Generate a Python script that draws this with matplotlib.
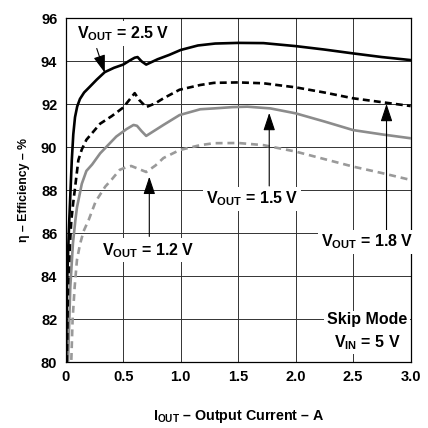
import matplotlib
matplotlib.use("Agg")
import matplotlib.pyplot as plt

# Efficiency vs output current, skip mode, VIN = 5 V
x_25 = [0.003, 0.011, 0.022, 0.031, 0.042, 0.053, 0.066, 0.081, 0.10, 0.124, 0.16, 0.21,
        0.27, 0.34, 0.42, 0.50, 0.56, 0.60, 0.625, 0.66, 0.70, 0.74, 0.80, 0.90, 1.00,
        1.15, 1.30, 1.50, 1.72, 2.00, 2.25, 2.50, 2.75, 3.00]
eff_25 = [80.0, 83.5, 85.3, 86.6, 88.0, 89.4, 90.6, 91.4, 91.9, 92.25, 92.55, 92.82,
          93.15, 93.5, 93.7, 93.85, 94.05, 94.17, 94.2, 94.0, 93.85, 93.95, 94.1, 94.3,
          94.53, 94.74, 94.83, 94.86, 94.85, 94.71, 94.55, 94.37, 94.2, 94.06]

x_18 = [0.01, 0.02, 0.037, 0.049, 0.065, 0.081, 0.11, 0.14, 0.18, 0.3, 0.4, 0.5, 0.60,
        0.64, 0.70, 0.78, 0.85, 0.99, 1.17, 1.29, 1.5, 1.72, 2.0, 2.25, 2.5, 2.75, 3.0]
eff_18 = [80.0, 83.5, 85.5, 86.6, 87.4, 88.1, 89.4, 89.9, 90.35, 91.1, 91.45, 91.85,
          92.52, 92.2, 91.87, 92.05, 92.28, 92.68, 92.9, 93.0, 93.02, 92.98, 92.79,
          92.55, 92.28, 92.1, 91.92]

x_15 = [0.02, 0.04, 0.063, 0.084, 0.098, 0.14, 0.18, 0.23, 0.30, 0.44, 0.53, 0.59,
        0.62, 0.66, 0.70, 0.75, 0.85, 0.99, 1.17, 1.29, 1.45, 1.58, 1.78, 2.0, 2.25,
        2.5, 2.75, 3.0]
eff_15 = [80.0, 83.5, 85.53, 86.6, 87.2, 88.3, 88.9, 89.2, 89.72, 90.5, 90.85, 91.04,
          91.0, 90.75, 90.53, 90.7, 91.04, 91.5, 91.77, 91.81, 91.87, 91.89, 91.81,
          91.58, 91.2, 90.8, 90.6, 90.42]

x_12 = [0.049, 0.06, 0.078, 0.098, 0.125, 0.156, 0.2, 0.26, 0.344, 0.40, 0.47, 0.53,
        0.57, 0.64, 0.70, 0.78, 0.85, 0.99, 1.17, 1.29, 1.5, 1.72, 2.0, 2.25, 2.5,
        2.75, 3.0]
eff_12 = [80.1, 81.97, 83.5, 84.76, 85.5, 86.1, 86.62, 87.47, 88.17, 88.5, 88.95,
          89.08, 89.13, 88.98, 88.85, 89.15, 89.5, 89.87, 90.1, 90.19, 90.2, 90.1, 89.8,
          89.45, 89.1, 88.8, 88.48]

x_ticks = [0, 0.5, 1.0, 1.5, 2.0, 2.5, 3.0]
x_tick_labels = ["0", "0.5", "1.0", "1.5", "2.0", "2.5", "3.0"]
y_ticks = [80, 82, 84, 86, 88, 90, 92, 94, 96]

plt.rcParams["font.family"] = ["Liberation Sans", "DejaVu Sans"]
plt.rcParams["font.weight"] = "bold"
plt.rcParams["mathtext.fontset"] = "custom"
plt.rcParams["mathtext.rm"] = "Liberation Sans:bold"
plt.rcParams["mathtext.bf"] = "Liberation Sans:bold"
plt.rcParams["mathtext.it"] = "Liberation Sans:bold"
plt.rcParams["lines.scale_dashes"] = False

fig = plt.figure(figsize=(4.28, 4.28), dpi=100)
ax = fig.add_axes([0.1535, 0.154, 0.806, 0.803])

grid_kw = dict(color="#333333", lw=0.7, zorder=1)
for xt in x_ticks[1:-1]:
    ax.axvline(xt, **grid_kw)
for yt in y_ticks[1:-1]:
    ax.axhline(yt, **grid_kw)

ax.plot(x_12, eff_12, color="#9a9a9a", lw=1.9, ls=(0, (5, 3.5)), zorder=3)
ax.plot(x_15, eff_15, color="#8c8c8c", lw=1.9, zorder=3)
ax.plot(x_18, eff_18, color="black", lw=1.9, ls=(0, (5, 3)), zorder=3)
ax.plot(x_25, eff_25, color="black", lw=1.9, zorder=4)

ax.set_xlim(0, 3.0)
ax.set_ylim(80, 96)
ax.set_xticks(x_ticks)
ax.set_xticklabels(x_tick_labels)
ax.set_yticks(y_ticks)
ax.tick_params(length=0, labelsize=10.5, pad=6)
for lab in ax.get_xticklabels() + ax.get_yticklabels():
    lab.set_fontweight("bold")
for sp in ax.spines.values():
    sp.set_linewidth(0.9)

ax.set_xlabel(r"$\mathbf{I_{OUT}}$ – Output Current – A", fontsize=10.3, fontweight="bold", labelpad=17)
ax.set_ylabel("η – Efficiency – %", fontsize=8.8, fontweight="bold", labelpad=8)

box = dict(facecolor="white", edgecolor="none", pad=2)
arrow = dict(arrowstyle="-|>,head_length=0.9,head_width=0.3", color="black", lw=0.8,
             mutation_scale=12, shrinkA=0, shrinkB=0)
txt_kw = dict(fontsize=11.5, fontweight="bold", ha="center", va="center", zorder=6)

ax.text(0.5, 95.3, r"$\mathbf{V_{OUT}}$ = 2.5 V", bbox=box, **txt_kw)
ax.annotate("", xy=(0.34, 93.47), xytext=(0.27, 94.6), arrowprops=arrow, zorder=5)

ax.text(0.715, 85.2, r"$\mathbf{V_{OUT}}$ = 1.2 V", bbox=box, **txt_kw)
ax.annotate("", xy=(0.727, 88.63), xytext=(0.727, 85.85), arrowprops=arrow, zorder=5)

ax.text(1.62, 87.6, r"$\mathbf{V_{OUT}}$ = 1.5 V", bbox=box, **txt_kw)
ax.annotate("", xy=(1.77, 91.6), xytext=(1.77, 88.2), arrowprops=arrow, zorder=5)

ax.text(2.62, 85.6, r"$\mathbf{V_{OUT}}$ = 1.8 V", bbox=box, **txt_kw)
ax.annotate("", xy=(2.79, 92.02), xytext=(2.79, 86.1), arrowprops=arrow, zorder=5)

ax.text(2.62, 81.4, "Skip Mode\n" + r"$\mathbf{V_{IN}}$ = 5 V", bbox=box,
        linespacing=1.4, **txt_kw)

fig.savefig("out.png", dpi=100)
